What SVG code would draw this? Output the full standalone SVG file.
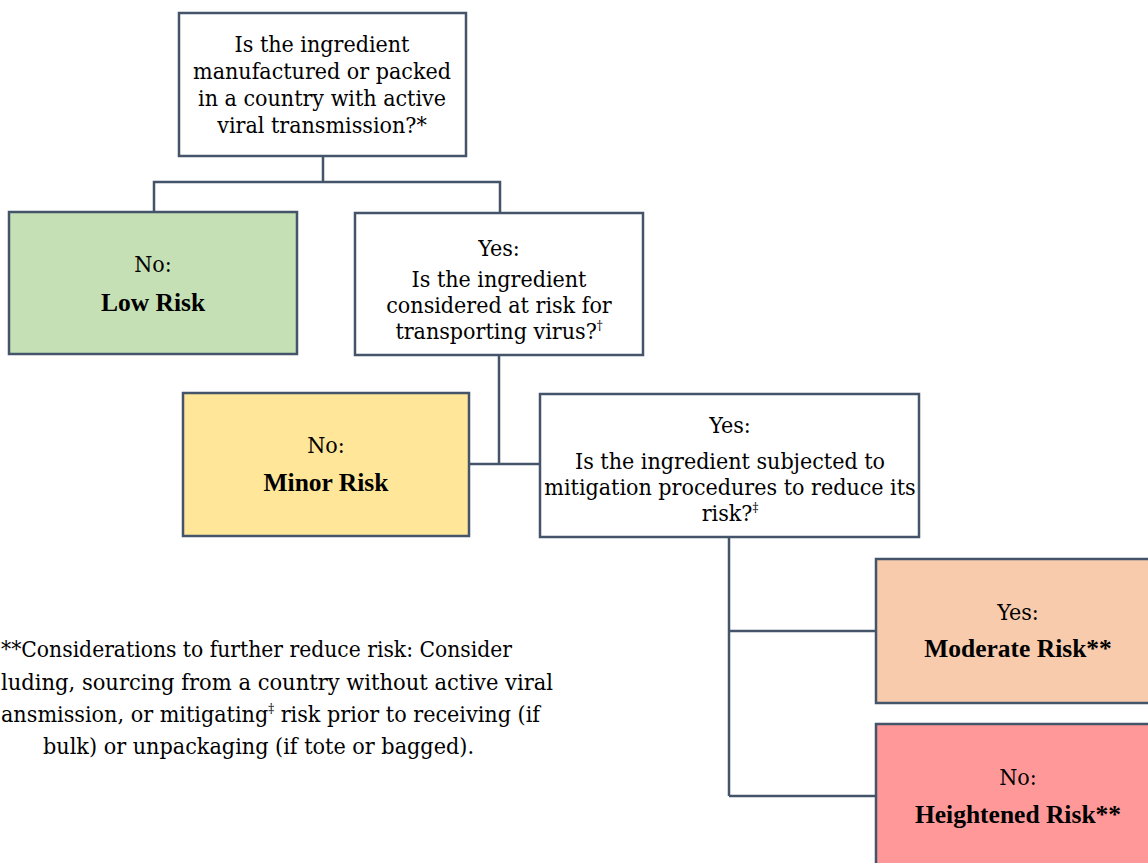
<svg xmlns="http://www.w3.org/2000/svg" width="1148" height="863" viewBox="0 0 1148 863">
<style>
.box{stroke:#44546a;stroke-width:2.5}
.conn{fill:none;stroke:#44546a;stroke-width:2.5}
text{font-family:'DejaVu Serif Condensed','DejaVu Serif',serif;font-stretch:condensed;font-size:23px;fill:#000;text-anchor:middle}
.b{font-family:'Liberation Serif',serif;font-stretch:normal;font-weight:700;font-size:25.5px}
.sup{font-size:13px}
.st{text-anchor:start}
</style>
<rect width="1148" height="863" fill="#ffffff"/>
<g id="connectors">
<path class="conn" d="M323,156 V182 M154,212 V182 H500 V212"/>
<path class="conn" d="M499,355 V464 M469,464 H540"/>
<path class="conn" d="M729,537 V796 M729,631 H876 M729,796 H876"/>
</g>
<g id="q1">
<rect class="box" x="179" y="13" width="287" height="143" fill="#ffffff"/>
<text x="322" y="52">Is the ingredient</text>
<text x="322" y="79">manufactured or packed</text>
<text x="322" y="106">in a country with active</text>
<text x="322" y="133">viral transmission?*</text>
</g>
<g id="low">
<rect class="box" x="9" y="212" width="288" height="142" fill="#c5e0b4"/>
<text x="153" y="272">No:</text>
<text class="b" x="153" y="311">Low Risk</text>
</g>
<g id="q2">
<rect class="box" x="355" y="213" width="288" height="142" fill="#ffffff"/>
<text x="499" y="256">Yes:</text>
<text x="499" y="287">Is the ingredient</text>
<text x="499" y="313">considered at risk for</text>
<text x="499" y="339">transporting virus?<tspan class="sup" dy="-9">†</tspan></text>
</g>
<g id="minor">
<rect class="box" x="183" y="393" width="286" height="143" fill="#ffe699"/>
<text x="326" y="453">No:</text>
<text class="b" x="326" y="491">Minor Risk</text>
</g>
<g id="q3">
<rect class="box" x="540" y="394" width="379" height="143" fill="#ffffff"/>
<text x="730" y="433">Yes:</text>
<text x="730" y="469">Is the ingredient subjected to</text>
<text x="730" y="495">mitigation procedures to reduce its</text>
<text x="730" y="521">risk?<tspan class="sup" dy="-9">‡</tspan></text>
</g>
<g id="moderate">
<rect class="box" x="876" y="559" width="284" height="144" fill="#f8cbad"/>
<text x="1018" y="620">Yes:</text>
<text class="b" x="1018" y="657">Moderate Risk**</text>
</g>
<g id="heightened">
<rect class="box" x="876" y="724" width="284" height="150" fill="#ff9999"/>
<text x="1018" y="785">No:</text>
<text class="b" x="1018" y="823">Heightened Risk**</text>
</g>
<g id="note">
<text class="st" x="1" y="657" textLength="511" lengthAdjust="spacingAndGlyphs">**Considerations to further reduce risk: Consider</text>
<text class="st" x="1" y="690" textLength="552" lengthAdjust="spacingAndGlyphs">luding, sourcing from a country without active viral</text>
<text class="st" x="1" y="722" textLength="539" lengthAdjust="spacingAndGlyphs">ansmission, or mitigating<tspan class="sup" dy="-9">‡</tspan><tspan dy="9"> risk prior to receiving (if</tspan></text>
<text class="st" x="43" y="754" textLength="431" lengthAdjust="spacingAndGlyphs">bulk) or unpackaging (if tote or bagged).</text>
</g>
</svg>
